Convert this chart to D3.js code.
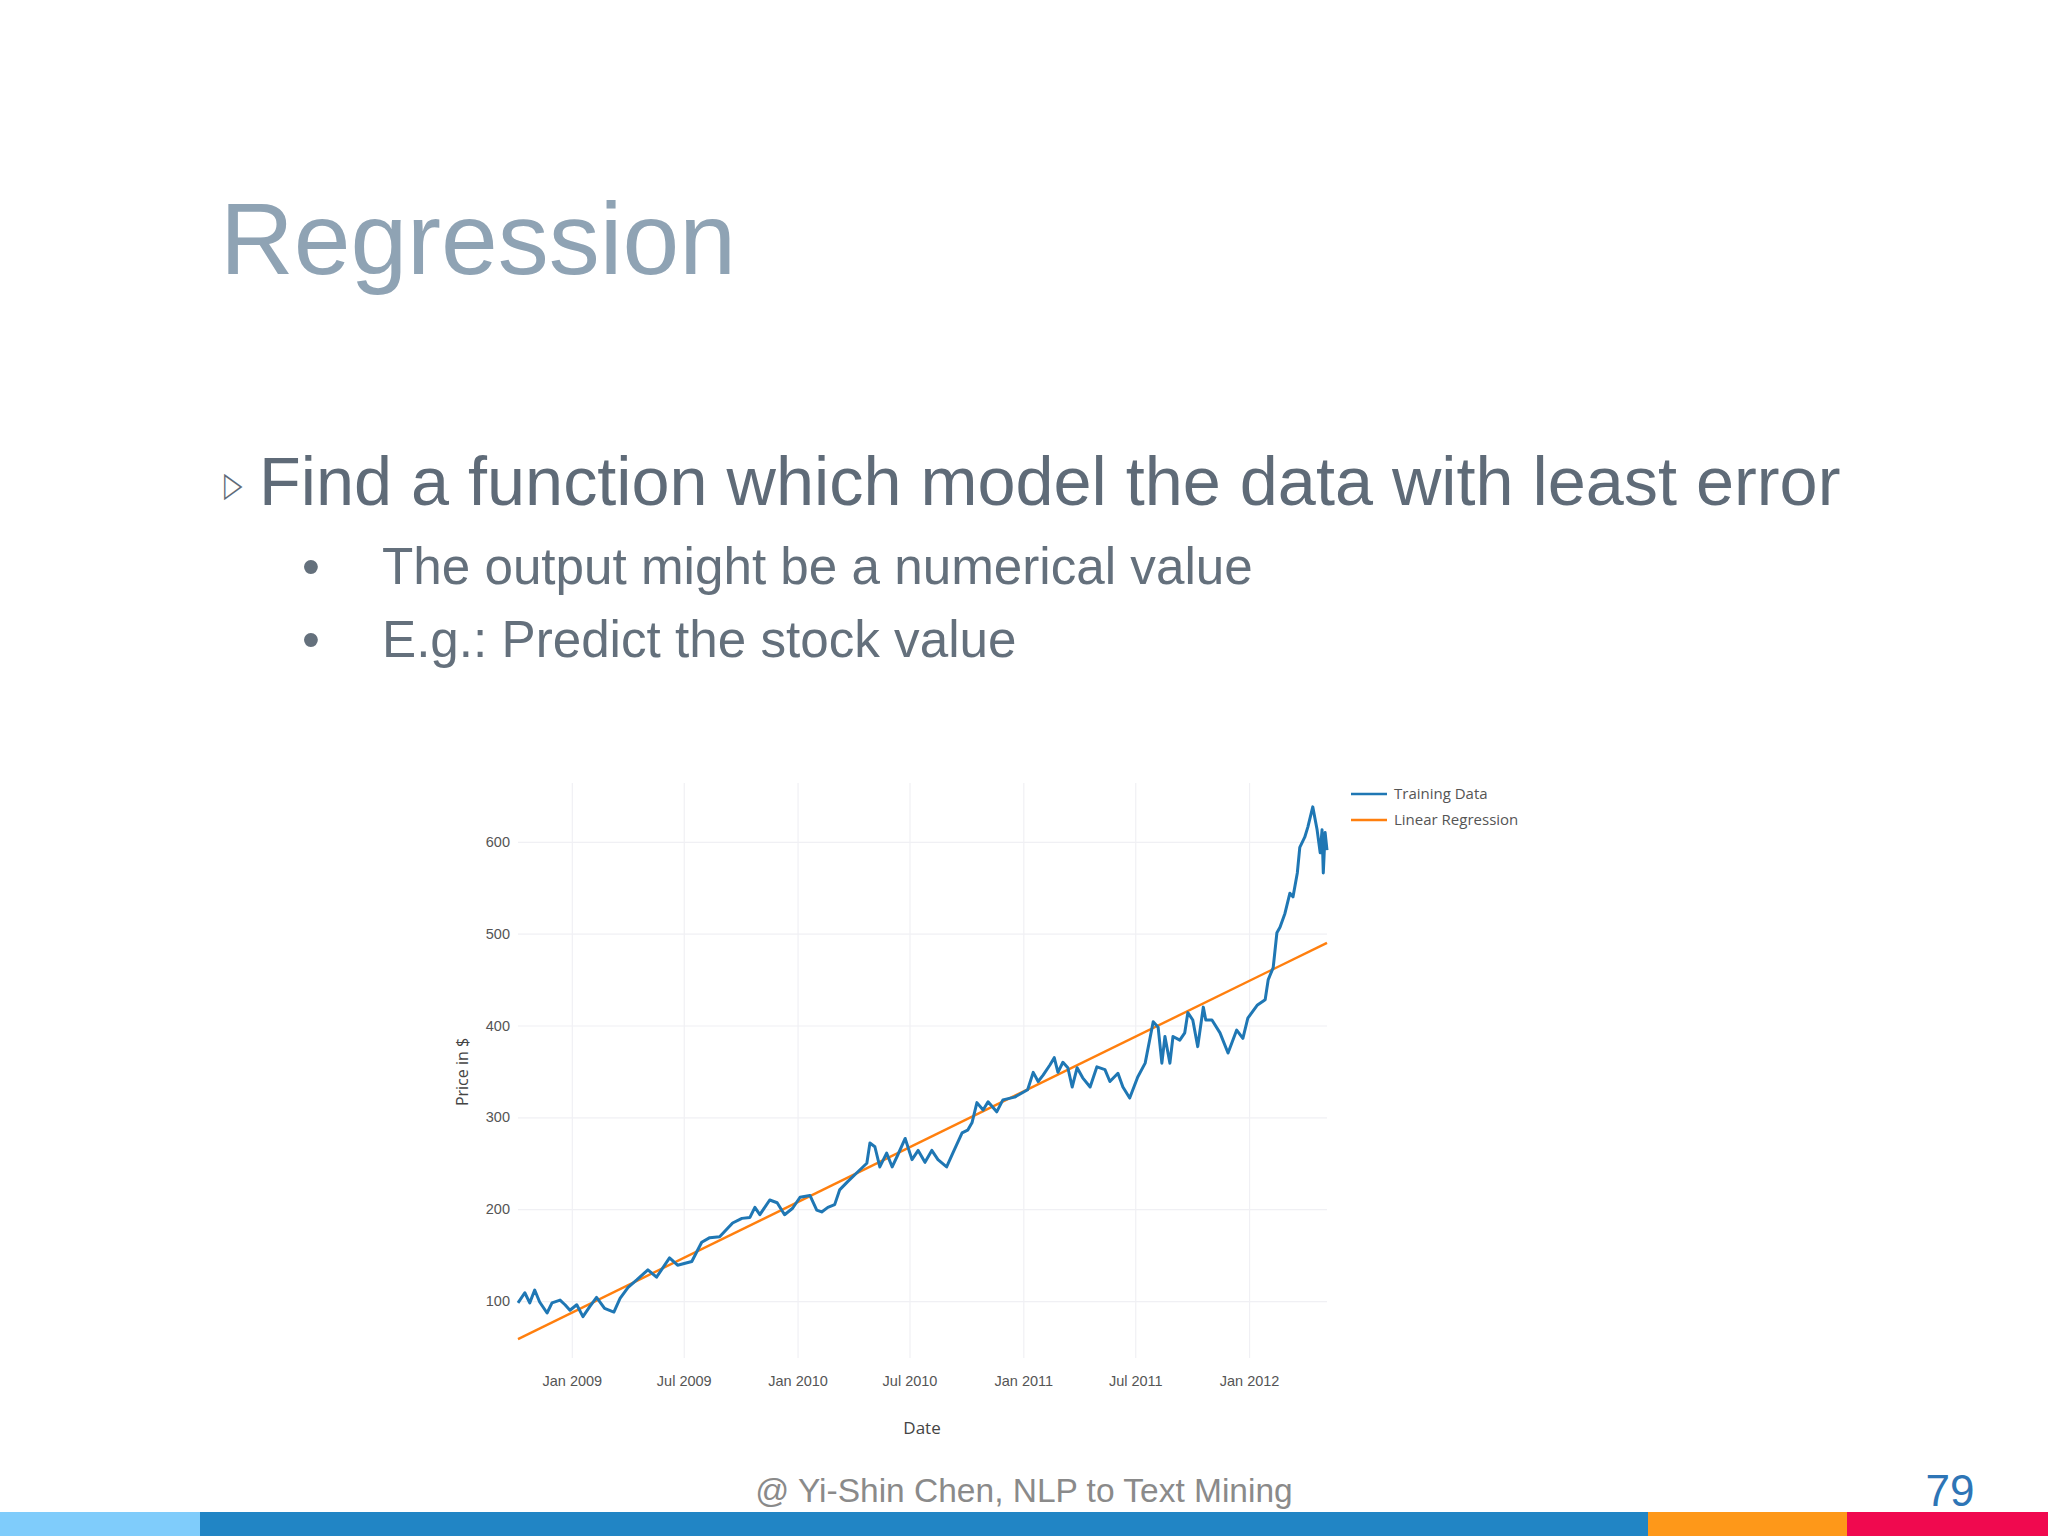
<!DOCTYPE html>
<html><head><meta charset="utf-8">
<script src="https://cdn.jsdelivr.net/npm/d3@7"></script>
<style>html,body{margin:0;padding:0;background:#fff;} svg{display:block;}</style>
</head><body>
<svg id="c" width="2048" height="1536"></svg>
<script>
// ---------- data ----------
const dates = [
"2008-10-06","2008-10-17","2008-10-25","2008-11-02","2008-11-10","2008-11-22","2008-11-30","2008-12-13","2008-12-21","2008-12-29",
"2009-01-09","2009-01-19","2009-01-30","2009-02-10","2009-02-23","2009-03-10","2009-03-20","2009-04-02","2009-04-16","2009-05-04",
"2009-05-18","2009-06-08","2009-06-21","2009-07-14","2009-07-30","2009-08-12","2009-08-28","2009-09-18","2009-10-03","2009-10-16",
"2009-10-24","2009-11-01","2009-11-17","2009-11-29","2009-12-11","2009-12-24","2010-01-05","2010-01-21","2010-02-01","2010-02-09",
"2010-02-19","2010-03-02","2010-03-10","2010-03-23","2010-04-09","2010-04-23","2010-04-28","2010-05-06","2010-05-14","2010-05-25",
"2010-06-03","2010-06-12","2010-06-24","2010-07-05","2010-07-15","2010-07-26","2010-08-06","2010-08-16","2010-08-30","2010-09-09",
"2010-09-24","2010-10-03","2010-10-10","2010-10-18","2010-10-28","2010-11-05","2010-11-19","2010-11-29","2010-12-18","2011-01-08",
"2011-01-17","2011-01-25","2011-02-02","2011-02-13","2011-02-20","2011-02-26","2011-03-06","2011-03-14","2011-03-21","2011-03-29",
"2011-04-07","2011-04-19","2011-04-30","2011-05-13","2011-05-21","2011-06-03","2011-06-11","2011-06-22","2011-07-05","2011-07-17",
"2011-07-30","2011-08-07","2011-08-13","2011-08-18","2011-08-26","2011-08-31","2011-09-11","2011-09-19","2011-09-24","2011-10-02",
"2011-10-10","2011-10-19","2011-10-23","2011-11-02","2011-11-15","2011-11-28","2011-12-12","2011-12-22","2011-12-30","2012-01-14",
"2012-01-27","2012-02-01","2012-02-09","2012-02-15","2012-02-20","2012-02-28","2012-03-07","2012-03-12","2012-03-19","2012-03-23",
"2012-03-31","2012-04-05","2012-04-13","2012-04-20","2012-04-25","2012-04-28","2012-04-30","2012-05-03","2012-05-06"
];
const prices = [
98,109,98,112,99,87,98,101,96,90,
96,83,94,104,92,88,103,115,123,134,
126,147,139,143,164,169,170,185,190,191,
202,194,210,207,194,201,213,215,199,197,
202,205,221,230,241,250,272,268,246,261,
246,259,277,254,264,251,264,254,246,261,
283,286,294,316,308,317,306,319,322,330,
349,339,346,357,365,349,360,354,333,354,
343,333,355,352,339,348,333,321,344,359,
404,398,359,388,359,388,384,392,414,406,
377,420,406,406,392,370,395,386,408,422,
428,450,463,501,507,522,544,540,566,594,
605,616,638,613,588,613,566,610,591
];
const regDates = ["2008-10-06","2012-05-06"];
const regValues = [58.6, 490];
const yTicks = [100,200,300,400,500,600];
const xTickDates = ["2009-01-01","2009-07-01","2010-01-01","2010-07-01","2011-01-01","2011-07-01","2012-01-01"];
const xTickLabels = ["Jan 2009","Jul 2009","Jan 2010","Jul 2010","Jan 2011","Jul 2011","Jan 2012"];
const seriesNames = ["Training Data","Linear Regression"];
const seriesColors = ["#1f77b4","#ff7f0e"];

// ---------- layout ----------
const svg = d3.select("#c");
const parse = d3.timeParse("%Y-%m-%d");
const P = {left:518, right:1327, top:783, bottom:1358};

const x = d3.scaleTime().domain([parse("2008-10-06"), parse("2012-05-06")]).range([P.left, P.right]);
const y = d3.scaleLinear().domain([38, 664]).range([P.bottom, P.top]);

// slide texts
const slideFont = "'Liberation Sans', Arial, sans-serif";
svg.append("text").attr("x",220).attr("y",274).attr("font-family",slideFont)
  .attr("font-size",102).attr("fill","#8fa3b4").text("Regression");
svg.append("text").attr("x",224).attr("y",496).attr("font-family","'DejaVu Sans'")
  .attr("font-size",30).attr("fill","#5f6b78").attr("transform","translate(224,496) scale(0.8,1.15) translate(-224,-496)").text("▷");
svg.append("text").attr("x",259).attr("y",505).attr("font-family",slideFont)
  .attr("font-size",68.4).attr("fill","#5f6b78").text("Find a function which model the data with least error");
const subs = ["The output might be a numerical value","E.g.: Predict the stock value"];
const subY = [584, 657];
subs.forEach((s,i)=>{
  svg.append("text").attr("x",302).attr("y",subY[i]).attr("font-family",slideFont)
    .attr("font-size",51).attr("fill","#64707c").text("•");
  svg.append("text").attr("x",382).attr("y",subY[i]).attr("font-family",slideFont)
    .attr("font-size",51.2).attr("fill","#64707c").text(s);
});

// chart
const g = svg.append("g").attr("font-family","'Open Sans', sans-serif");

const yAxis = g.append("g").attr("transform",`translate(${P.left},0)`)
  .call(d3.axisLeft(y).tickValues(yTicks).tickSize(-(P.right-P.left)).tickPadding(8).tickFormat(d3.format("d")));
yAxis.select(".domain").remove();
yAxis.selectAll("line").attr("stroke","#f0f0f4").attr("stroke-width",1.2);
yAxis.selectAll("text").attr("font-size",14.5).attr("fill","#555");

const xAxis = g.append("g").attr("transform",`translate(0,${P.bottom})`)
  .call(d3.axisBottom(x).tickValues(xTickDates.map(parse)).tickSize(-(P.bottom-P.top)).tickPadding(18)
    .tickFormat((d,i)=>xTickLabels[i]));
xAxis.select(".domain").remove();
xAxis.selectAll("line").attr("stroke","#f0f0f4").attr("stroke-width",1.2);
xAxis.selectAll("text").attr("font-size",14.5).attr("fill","#555");

// lines
const line = d3.line().x(d=>x(d[0])).y(d=>y(d[1]));
const train = dates.map((d,i)=>[parse(d), prices[i]]);
const reg = regDates.map((d,i)=>[parse(d), regValues[i]]);
g.append("path").datum(reg).attr("d",line).attr("fill","none")
  .attr("stroke",seriesColors[1]).attr("stroke-width",2.4);
g.append("path").datum(train).attr("d",line).attr("fill","none")
  .attr("stroke",seriesColors[0]).attr("stroke-width",3).attr("stroke-linejoin","round");

// axis titles
g.append("text").attr("x",922).attr("y",1434).attr("text-anchor","middle")
  .attr("font-size",17).attr("fill","#444").text("Date");
g.append("text").attr("transform","translate(468,1072) rotate(-90)").attr("text-anchor","middle")
  .attr("font-size",16).attr("fill","#444").text("Price in $");

// legend
const legY = [794, 820];
seriesNames.forEach((n,i)=>{
  g.append("line").attr("x1",1351).attr("x2",1387).attr("y1",legY[i]).attr("y2",legY[i])
    .attr("stroke",seriesColors[i]).attr("stroke-width",2.4);
  g.append("text").attr("x",1394).attr("y",legY[i]).attr("dy","0.35em")
    .attr("font-size",15).attr("fill","#555").text(n);
});

// footer
svg.append("text").attr("x",1024).attr("y",1502).attr("text-anchor","middle").attr("font-family",slideFont)
  .attr("font-size",33.5).attr("fill","#8a8a8a").text("@ Yi-Shin Chen, NLP to Text Mining");
svg.append("text").attr("x",1950).attr("y",1506).attr("text-anchor","middle").attr("font-family",slideFont)
  .attr("font-size",44).attr("fill","#2e75b6").text("79");
const barX = [0,200,1648,1847,2048];
const barC = ["#7fccfb","#2185c5","#fe9819","#f0094f"];
barC.forEach((c,i)=>{
  svg.append("rect").attr("x",barX[i]).attr("y",1512).attr("width",barX[i+1]-barX[i]).attr("height",24).attr("fill",c);
});
</script>
</body></html>
